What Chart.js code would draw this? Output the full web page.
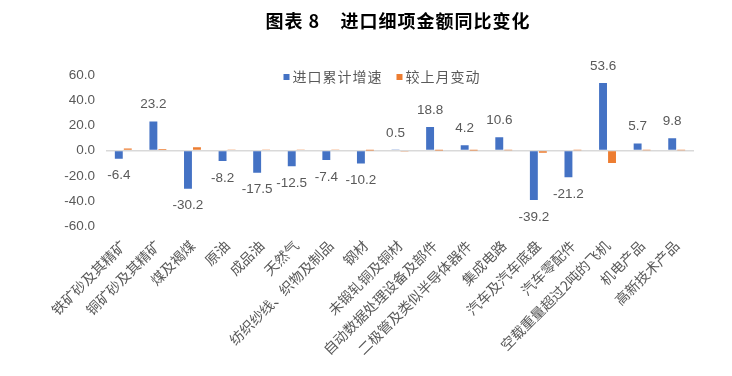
<!DOCTYPE html>
<html>
<head>
<meta charset="utf-8">
<script src="https://cdn.jsdelivr.net/npm/chart.js"></script>
<style>
  body { margin: 0; background: #fff; }
  #wrap { width: 732px; height: 376px; position: relative; }
</style>
</head>
<body>
<div id="wrap"><canvas id="chart"></canvas></div>
<script>
var titleText = '图表 8    进口细项金额同比变化';

var categories = ['铁矿砂及其精矿', '铜矿砂及其精矿', '煤及褐煤', '原油', '成品油', '天然气',
  '纺织纱线、织物及制品', '钢材', '未锻轧铜及铜材', '自动数据处理设备及部件',
  '二极管及类似半导体器件', '集成电路', '汽车及汽车底盘', '汽车零配件',
  '空载重量超过2吨的飞机', '机电产品', '高新技术产品'];

var seriesNames = ['进口累计增速', '较上月变动'];
var seriesColors = ['#4472C4', '#ED7D31'];

// 进口累计增速
var growth = [-6.4, 23.2, -30.2, -8.2, -17.5, -12.5, -7.4, -10.2, 0.5, 18.8, 4.2, 10.6, -39.2, -21.2, 53.6, 5.7, 9.8];
// 较上月变动 (no labels)
var change = [1.6, 1.3, 2.6, 0.9, 0.9, 0.9, 0.5, 0.1, -0.3, 0.1, 0.1, 0.3, -1.6, 0.3, -9.8, 0.3, 0.3];

var yTicks = [60, 40, 20, 0, -20, -40, -60];

var fontFam = '"Liberation Sans", "Noto Sans CJK SC", sans-serif';
var cjkFam = '"Noto Sans CJK SC", sans-serif';
var grey = '#595959';

// title sits a bit right of center in the original
var titlePlugin = {
  id: 'titleText',
  afterDraw: function(chart) {
    var ctx = chart.ctx;
    ctx.save();
    ctx.font = 'bold 18px ' + cjkFam;
    ctx.letterSpacing = '1px';
    ctx.fillStyle = '#000';
    ctx.textAlign = 'center';
    ctx.textBaseline = 'middle';
    ctx.fillText(titleText, chart.width / 2 + 32, 21);
    ctx.restore();
  }
};

// legend drawn over the top of the plot, like the excel one
var legendPlugin = {
  id: 'overLegend',
  afterDraw: function(chart) {
    var ctx = chart.ctx;
    ctx.save();
    ctx.font = '14px ' + cjkFam;
    ctx.letterSpacing = '1px';
    ctx.textBaseline = 'middle';
    var box = 6, gap = 3, between = 14;
    var widths = seriesNames.map(function(n) { return box + gap + ctx.measureText(n).width; });
    var total = widths[0] + between + widths[1];
    var x = chart.width / 2 + 16 - total / 2;
    var y = 77;
    seriesNames.forEach(function(n, i) {
      ctx.fillStyle = seriesColors[i];
      ctx.fillRect(x, y - box / 2, box, box);
      ctx.fillStyle = grey;
      ctx.fillText(n, x + box + gap, y);
      x += widths[i] + between;
    });
    ctx.restore();
  }
};

// value labels for the first series, outside end like excel
var valueLabels = {
  id: 'valueLabels',
  afterDatasetsDraw: function(chart) {
    var ctx = chart.ctx;
    var meta = chart.getDatasetMeta(0);
    ctx.save();
    ctx.font = '13.5px ' + fontFam;
    ctx.fillStyle = grey;
    ctx.textAlign = 'center';
    ctx.textBaseline = 'middle';
    meta.data.forEach(function(bar, i) {
      var v = growth[i];
      var off = v >= 0 ? -17 : 17;
      ctx.fillText(v.toFixed(1), bar.x, bar.y + off);
    });
    ctx.restore();
  }
};

var ctx = document.getElementById('chart');
new Chart(ctx, {
  type: 'bar',
  data: {
    labels: categories,
    datasets: [
      { label: seriesNames[0], data: growth, backgroundColor: seriesColors[0],
        barPercentage: 0.88, categoryPercentage: 0.52 },
      { label: seriesNames[1], data: change, backgroundColor: seriesColors[1],
        barPercentage: 0.88, categoryPercentage: 0.52 }
    ]
  },
  options: {
    responsive: true,
    maintainAspectRatio: false,
    animation: false,
    layout: { padding: { top: 75, left: 40, right: 38, bottom: 15 } },
    plugins: {
      legend: { display: false },
      tooltip: { enabled: false }
    },
    scales: {
      x: {
        grid: { display: false },
        border: { display: false },
        ticks: { color: grey, minRotation: 45, maxRotation: 45, autoSkip: false,
          font: { size: 14, family: cjkFam } }
      },
      y: {
        min: -60, max: 60,
        border: { display: false },
        afterFit: function(s) { s.width = 66; },
        grid: {
          drawTicks: false,
          color: function(c) { return c.tick && c.tick.value === 0 ? '#D9D9D9' : 'transparent'; },
          lineWidth: 1.5
        },
        afterBuildTicks: function(s) { s.ticks = yTicks.map(function(v) { return { value: v }; }); },
        ticks: { color: grey, padding: 11, font: { size: 13.5, family: fontFam },
          callback: function(v) { return v.toFixed(1); } }
      }
    }
  },
  plugins: [titlePlugin, legendPlugin, valueLabels]
});
</script>
</body>
</html>
